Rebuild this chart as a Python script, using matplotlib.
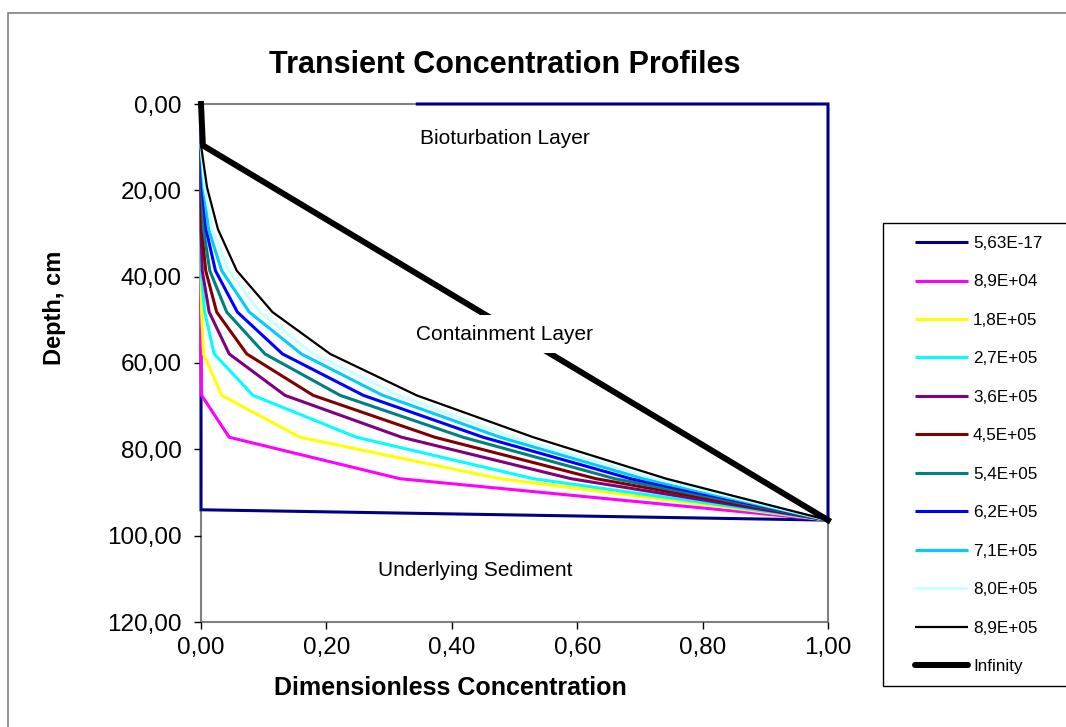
import matplotlib
matplotlib.use("Agg")
import matplotlib.pyplot as plt
from matplotlib.patches import Rectangle
from matplotlib.ticker import FuncFormatter
from matplotlib.lines import Line2D

plt.rcParams['font.family'] = ['Liberation Sans', 'DejaVu Sans']

W, H = 1066, 727

# ---------------- data ----------------
depth = [9.6, 19.3, 29.0, 38.6, 48.2, 57.9, 67.5, 77.2, 86.8, 96.4]

labels = ["5,63E-17", "8,9E+04", "1,8E+05", "2,7E+05", "3,6E+05", "4,5E+05",
          "5,4E+05", "6,2E+05", "7,1E+05", "8,0E+05", "8,9E+05", "Infinity"]
colors = ["#000080", "#FF00FF", "#FFFF00", "#00FFFF", "#800080", "#800000",
          "#008080", "#0000FF", "#00CCFF", "#CCFFFF", "#000000", "#000000"]

# initial profile (5,63E-17)
init_conc = [0.345, 1.0, 1.0, 0.0, 0.0]
init_depth = [0.0, 0.0, 96.4, 94.0, 0.0]

c_89e04 = [0, 0, 0, 0, 0, 0, 0.001, 0.045, 0.317, 1]
c_18e05 = [0, 0, 0, 0, 0.001, 0.004, 0.033, 0.158, 0.477, 1]
c_27e05 = [0, 0, 0, 0, 0.006, 0.021, 0.083, 0.248, 0.530, 1]
c_36e05 = [0, 0, 0, 0.002, 0.013, 0.045, 0.134, 0.320, 0.590, 1]
c_45e05 = [0, 0, 0.001, 0.0075, 0.025, 0.073, 0.179, 0.373, 0.630, 1]
c_54e05 = [0, 0.001, 0.004, 0.014, 0.041, 0.102, 0.222, 0.418, 0.660, 1]
c_62e05 = [0, 0.002, 0.008, 0.023, 0.058, 0.130, 0.259, 0.450, 0.685, 1]
c_71e05 = [0, 0.004, 0.012, 0.033, 0.077, 0.160, 0.290, 0.477, 0.705, 1]
c_80e05 = [0, 0.006, 0.018, 0.044, 0.094, 0.179, 0.315, 0.497, 0.725, 1]
c_89e05 = [0, 0.0096, 0.027, 0.057, 0.114, 0.206, 0.344, 0.530, 0.742, 1]

inf_depth = [0.0, 9.6, 96.4]
inf_conc = [0.0, 0.003, 1.0]

xticks = [0, 0.2, 0.4, 0.6, 0.8, 1.0]
yticks = [0, 20, 40, 60, 80, 100, 120]

# ---------------- figure ----------------
fig = plt.figure(figsize=(W / 100, H / 100), dpi=100)
fig.patch.set_facecolor("white")

def fx(px):
    return px / W

def fy(py):
    return 1 - py / H

# outer chart border (extends beyond figure right/bottom)
fig.patches.append(Rectangle((fx(8), fy(800)), fx(1200) - fx(8), fy(13) - fy(800),
                             transform=fig.transFigure, fill=False,
                             edgecolor="#808080", linewidth=1.2, zorder=0))

ax = fig.add_axes([fx(201), fy(622), fx(828) - fx(201), fy(104) - fy(622)])
ax.set_xlim(0, 1)
ax.set_ylim(120, 0)

series = [c_89e04, c_18e05, c_27e05, c_36e05, c_45e05, c_54e05,
          c_62e05, c_71e05, c_80e05, c_89e05]

ax.plot(init_conc, init_depth, color=colors[0], lw=2.2, solid_joinstyle="miter",
        clip_on=False, zorder=3)
for i, s in enumerate(series):
    lw = 1.6 if i == len(series) - 1 else 2.2
    ax.plot(s, depth, color=colors[i + 1], lw=lw, clip_on=False, zorder=3 + i * 0.01)
ax.plot(inf_conc, inf_depth, color="black", lw=4.3, clip_on=False, zorder=4)

for sp in ax.spines.values():
    sp.set_color("#808080")
    sp.set_linewidth(1.5)
    sp.set_zorder(1)

ax.set_xticks(xticks)
ax.set_yticks(yticks)
fmt = FuncFormatter(lambda v, p: f"{v:.2f}".replace(".", ","))
ax.xaxis.set_major_formatter(fmt)
ax.yaxis.set_major_formatter(fmt)
ax.tick_params(axis="both", direction="out", length=5, width=1, color="black",
               labelsize=17.5, pad=6)
ax.tick_params(axis="y", pad=9)

box = dict(facecolor="white", edgecolor="none", pad=7)
ax.text(0.484, 7.9, "Bioturbation Layer", ha="center", va="center", fontsize=15,
        bbox=box, zorder=5)
ax.text(0.484, 53.3, "Containment Layer", ha="center", va="center", fontsize=15,
        bbox=box, zorder=5)
ax.text(0.437, 108.0, "Underlying Sediment", ha="center", va="center", fontsize=15,
        bbox=box, zorder=5)

fig.text(fx(505), fy(65), "Transient Concentration Profiles", ha="center", va="center",
         fontsize=22, fontweight="bold")
fig.text(fx(450), fy(688), "Dimensionless Concentration", ha="center", va="center",
         fontsize=18, fontweight="bold")
fig.text(fx(55), fy(308), "Depth, cm", ha="center", va="center", rotation=90,
         fontsize=17, fontweight="bold")

# legend frame (extends beyond right edge)
fig.patches.append(Rectangle((fx(883), fy(686)), fx(1200) - fx(883), fy(223) - fy(686),
                             transform=fig.transFigure, facecolor="white",
                             edgecolor="black", linewidth=1.0, zorder=1))
handles = []
for i, lab in enumerate(labels):
    lw = 4.3 if lab == "Infinity" else (1.6 if i == 10 else 2.2)
    handles.append(Line2D([0], [0], color=colors[i], lw=lw, solid_capstyle="round"
                          if lab == "Infinity" else "butt"))
leg = fig.legend(handles, labels, loc="upper left",
                 bbox_to_anchor=(fx(915), fy(236)), bbox_transform=fig.transFigure,
                 frameon=False, fontsize=12.3, handlelength=3.1, handletextpad=0.3,
                 labelspacing=1.375, borderpad=0, borderaxespad=0)
leg.set_zorder(2)

fig.savefig("out.png", dpi=100, facecolor="white")
